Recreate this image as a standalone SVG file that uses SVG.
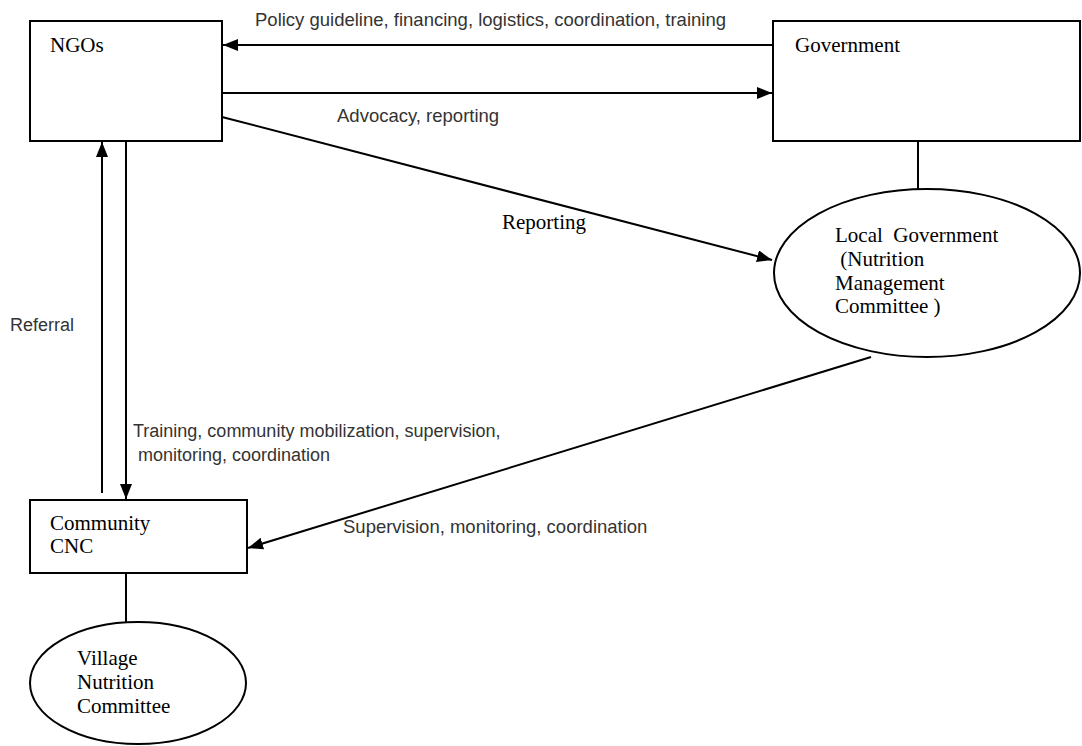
<svg xmlns="http://www.w3.org/2000/svg" width="1082" height="746" viewBox="0 0 1082 746">
<style>
.box{fill:#fff;stroke:#000;stroke-width:2}
.ln{fill:none;stroke:#000;stroke-width:2}
.tn{font-family:"Liberation Serif","Times New Roman",serif;font-size:21px;fill:#000}
.lb{font-family:"Liberation Sans",Arial,sans-serif;font-size:18.5px;fill:#333}
.lb2{font-family:"Liberation Sans",Arial,sans-serif;font-size:18px;fill:#333}
</style>
<defs>
<marker id="ah" markerUnits="userSpaceOnUse" markerWidth="16" markerHeight="13" refX="15" refY="6" orient="auto">
<path d="M0,0 L15,6 L0,12 z" fill="#000"/>
</marker>
</defs>
<rect width="1082" height="746" fill="#fff"/>
<g id="connectors">
<line class="ln" x1="773" y1="45" x2="223" y2="45" marker-end="url(#ah)"/>
<line class="ln" x1="222" y1="93" x2="772" y2="93" marker-end="url(#ah)"/>
<line class="ln" x1="222" y1="117" x2="772" y2="260" marker-end="url(#ah)"/>
<line class="ln" x1="102" y1="493" x2="102" y2="142" marker-end="url(#ah)"/>
<line class="ln" x1="126" y1="141" x2="126" y2="499" marker-end="url(#ah)"/>
<line class="ln" x1="918" y1="141" x2="918" y2="189"/>
<line class="ln" x1="871" y1="357" x2="248" y2="548" marker-end="url(#ah)"/>
<line class="ln" x1="126" y1="573" x2="126" y2="622"/>
<text class="lb" x="255" y="26">Policy guideline, financing, logistics, coordination, training</text>
<text class="lb" x="337" y="122">Advocacy, reporting</text>
<text class="tn" x="502" y="229">Reporting</text>
<text class="lb2" x="10" y="331">Referral</text>
<text class="lb2" x="133" y="437">Training, community mobilization, supervision,</text>
<text class="lb2" x="133" y="461" xml:space="preserve"> monitoring, coordination</text>
<text class="lb" x="343" y="533">Supervision, monitoring, coordination</text>
</g>
<g id="ngos">
<rect class="box" x="30" y="21" width="192" height="120"/>
<text class="tn" x="50" y="52">NGOs</text>
</g>
<g id="government">
<rect class="box" x="773" y="21" width="307" height="120"/>
<text class="tn" x="795" y="52">Government</text>
</g>
<g id="local-government">
<ellipse class="box" cx="927" cy="273" rx="153" ry="84"/>
<text class="tn" xml:space="preserve"><tspan x="835" y="242">Local  Government</tspan><tspan x="835" y="266"> (Nutrition</tspan><tspan x="835" y="290">Management</tspan><tspan x="835" y="313">Committee )</tspan></text>
</g>
<g id="community-cnc">
<rect class="box" x="30" y="500" width="217" height="73"/>
<text class="tn"><tspan x="50" y="530">Community</tspan><tspan x="50" y="553">CNC</tspan></text>
</g>
<g id="village-nutrition-committee">
<ellipse class="box" cx="138" cy="683" rx="108" ry="61"/>
<text class="tn"><tspan x="77" y="665">Village</tspan><tspan x="77" y="689">Nutrition</tspan><tspan x="77" y="713">Committee</tspan></text>
</g>
</svg>
